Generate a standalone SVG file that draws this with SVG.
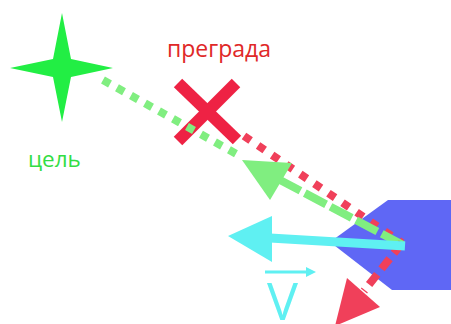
<svg xmlns="http://www.w3.org/2000/svg" width="451" height="324" viewBox="0 0 451 324">
<style>
.lbl{font-family:"Open Sans","Liberation Sans",sans-serif}
.gdot{stroke:#80ee80;stroke-width:8;stroke-dasharray:8 8;fill:none}
.rdot{stroke:#f0405a;stroke-width:8;stroke-dasharray:8 9;fill:none}
</style>
<rect width="451" height="324" fill="#ffffff"/>
<g id="ship">
<polygon points="388,200 451,200 451,290 392,290 330,242" fill="#5f67f5"/>
</g>
<g id="obstacle">
<line x1="178" y1="83" x2="237" y2="140" stroke="#ee2244" stroke-width="12"/>
<line x1="236" y1="83" x2="178" y2="141" stroke="#ee2244" stroke-width="12"/>
<text class="lbl" x="167" y="57" font-size="23" fill="#e02828">преграда</text>
</g>
<g id="target">
<polygon points="62,13 71,59 113,68 71,77 62,122 53,77 10,68 53,59" fill="#22ee44"/>
<text class="lbl" x="28" y="167" font-size="22.5" fill="#33dd44">цель</text>
</g>
<g id="connectors">
<line class="rdot" x1="244" y1="136" x2="402" y2="243"/>
<line class="gdot" x1="103" y1="80" x2="242" y2="157"/>
<line x1="403" y1="245" x2="280" y2="180" stroke="#80ee80" stroke-width="8" stroke-dasharray="24 5"/>
<polygon points="242,160 292,163 270,200" fill="#80ee80"/>
<line x1="402" y1="243" x2="364" y2="291" stroke="#f0405a" stroke-width="8" stroke-dasharray="13 7"/>
<polygon points="347,278 380,307 335,326" fill="#f0405a"/>
<line x1="405" y1="246" x2="270" y2="238" stroke="#5ff0f2" stroke-width="9"/>
<polygon points="228,236 272,216 272,262" fill="#5ff0f2"/>
</g>
<g id="velocity">
<line x1="265" y1="272" x2="308" y2="272" stroke="#5ff0f2" stroke-width="3"/>
<polygon points="316,272 306,267 306,277" fill="#5ff0f2"/>
<text class="lbl" x="267" y="320" font-size="52" fill="#5ff0f2">V</text>
</g>
</svg>
